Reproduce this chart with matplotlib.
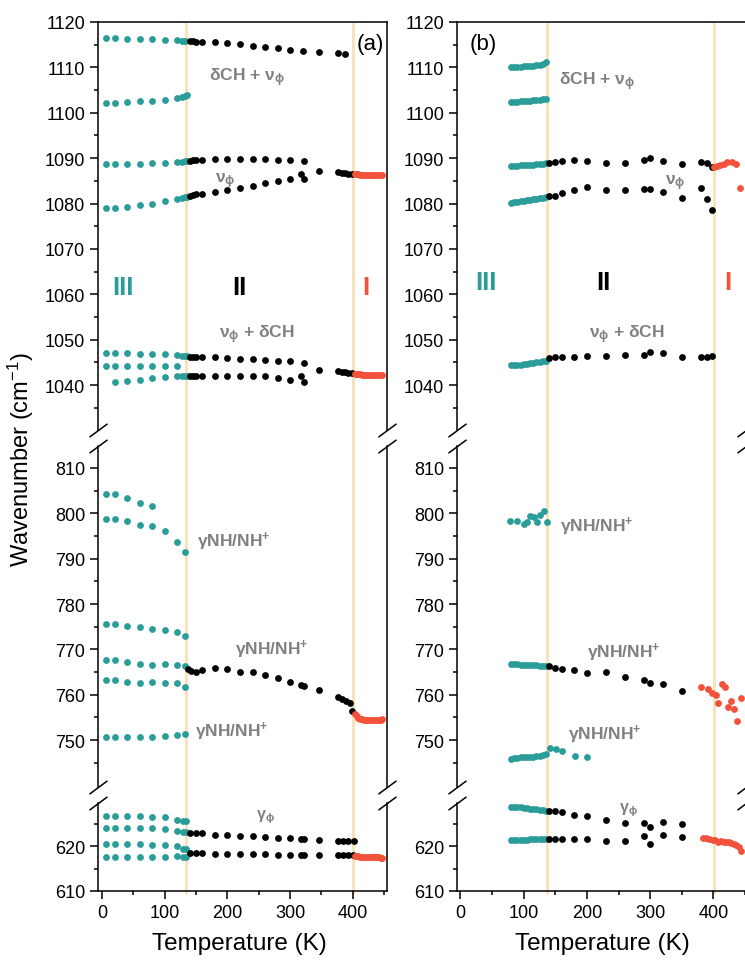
import matplotlib
matplotlib.use('Agg')
import matplotlib.pyplot as plt
from matplotlib.path import Path
from matplotlib.ticker import FixedLocator
from matplotlib.transforms import blended_transform_factory

plt.rcParams['font.family'] = ['Liberation Sans', 'DejaVu Sans']
plt.rcParams['mathtext.fontset'] = 'custom'
plt.rcParams['mathtext.rm'] = 'Liberation Sans'
plt.rcParams['mathtext.it'] = 'Liberation Sans:italic'
plt.rcParams['mathtext.bf'] = 'Liberation Sans:bold'

TEAL = '#2A9D99'
RED = '#F2513A'
BLACK = '#000000'
GREY = '#808080'
TAN = '#F8E3BC'

# ---------------- data : panel (a) ----------------
a_teal_T = [7, 20, 40, 60, 80, 100, 120, 127, 132, 136]
a1_T = [7, 20, 40, 60, 80, 100, 120, 127, 132]
a1_V = [1116.4, 1116.4, 1116.3, 1116.3, 1116.2, 1116.1, 1116.0, 1115.9, 1115.9]
a1k_T = [140, 145, 150, 160, 180, 200, 220, 240, 260, 280, 300, 320, 346, 377, 388]
a1k_V = [1115.8, 1115.8, 1115.7, 1115.6, 1115.5, 1115.3, 1115.1, 1114.7, 1114.4, 1114.2,
         1113.9, 1113.6, 1113.4, 1113.1, 1112.9]
a2_V = [1102.1, 1102.2, 1102.3, 1102.5, 1102.7, 1102.9, 1103.2, 1103.5, 1103.7, 1103.9]
a3_V = [1088.7, 1088.7, 1088.8, 1088.8, 1088.9, 1088.9, 1089.1, 1089.2, 1089.3, 1089.3]
a_k12_T = [140, 145, 150, 160, 180, 200, 220, 240, 260, 280, 300, 322]
a3k_V = [1089.4, 1089.5, 1089.6, 1089.7, 1089.8, 1089.8, 1089.9, 1089.9, 1089.8, 1089.7,
         1089.6, 1089.3]
a4_V = [1079.1, 1079.1, 1079.3, 1079.6, 1080.0, 1080.5, 1081.0, 1081.2, 1081.4, 1081.5]
a_k19_T = [140, 145, 150, 160, 180, 200, 220, 240, 260, 280, 300, 317, 322, 346, 377, 382,
           387, 393, 398]
a4k_V = [1081.7, 1081.9, 1082.0, 1082.2, 1082.6, 1083.0, 1083.4, 1083.8, 1084.6, 1085.0,
         1085.4, 1086.5, 1085.4, 1087.2, 1087.0, 1086.8, 1086.7, 1086.6, 1086.5]
a_red_T = [403, 406, 409, 412, 415, 418, 421, 424, 427, 430, 433, 436, 439, 442, 445, 447]
a4r_V = [1086.4, 1086.4, 1086.4, 1086.3, 1086.3, 1086.3, 1086.3, 1086.3, 1086.3, 1086.2,
         1086.2, 1086.2, 1086.2, 1086.2, 1086.2, 1086.2]
a5_V = [1047.0, 1047.0, 1047.0, 1046.9, 1046.9, 1046.8, 1046.7, 1046.5, 1046.4, 1046.3]
a5k_V = [1046.1, 1046.1, 1046.1, 1046.1, 1046.1, 1045.9, 1045.7, 1045.7, 1045.5, 1045.4,
         1045.2, 1044.8]
a6_T = [7, 20, 40, 60, 80, 100, 120]
a6_V = [1044.3, 1044.3, 1044.3, 1044.3, 1044.3, 1044.3, 1044.2]
a7_T = [20, 40, 60, 80, 100, 120, 127, 132, 136]
a7_V = [1040.7, 1040.9, 1041.2, 1041.5, 1041.7, 1041.9, 1041.9, 1042.0, 1042.0]
a6k_V = [1042.0, 1042.0, 1042.0, 1042.0, 1042.0, 1042.0, 1042.0, 1042.0, 1042.0, 1041.5,
         1041.2, 1042.1, 1040.6, 1043.4, 1043.0, 1042.9, 1042.8, 1042.7, 1042.6]
a6r_V = [1042.5, 1042.4, 1042.4, 1042.4, 1042.3, 1042.3, 1042.3, 1042.3, 1042.3, 1042.2,
         1042.2, 1042.2, 1042.2, 1042.2, 1042.2, 1042.2]

a8_T = [7, 20, 40, 60, 80]
a8_V = [804.3, 804.3, 803.3, 802.3, 801.6]
a_mid_T = [7, 20, 40, 60, 80, 100, 120, 132]
a9_V = [798.8, 798.8, 798.3, 797.5, 797.2, 796.2, 793.6, 791.4]
a10_V = [775.6, 775.6, 775.1, 774.9, 774.5, 774.2, 773.9, 772.9]
a11_V = [767.6, 767.6, 767.2, 766.8, 766.6, 766.8, 766.6, 766.3]
a12_V = [763.2, 763.2, 762.8, 762.6, 762.9, 762.6, 762.6, 761.8]
a13_V = [750.7, 750.7, 750.7, 750.7, 750.6, 750.8, 751.2, 751.3]
a11k_T = [137, 142, 150, 160, 180, 200, 220, 240, 260, 280, 300, 317, 322, 346, 377, 383,
          389, 395, 399]
a11k_V = [765.6, 765.2, 765.0, 765.4, 765.9, 765.6, 765.1, 765.0, 764.4, 763.7, 762.9,
          762.2, 761.9, 761.1, 759.5, 759.1, 758.7, 758.2, 756.5]
a11r_V = [755.8, 755.3, 754.9, 754.7, 754.6, 754.5, 754.5, 754.5, 754.5, 754.5, 754.5,
          754.5, 754.5, 754.5, 754.5, 754.6]

a_bot_T = [7, 20, 40, 60, 80, 100, 120, 129, 134]
a14_V = [626.7, 626.7, 626.7, 626.6, 626.5, 626.4, 625.8, 625.6, 625.6]
a15_V = [623.9, 623.9, 623.9, 623.9, 623.9, 623.8, 623.4, 623.2, 623.2]
a16_V = [620.4, 620.4, 620.4, 620.4, 620.3, 620.3, 619.9, 619.3, 619.3]
a17_V = [617.5, 617.5, 617.5, 617.5, 617.6, 617.6, 617.7, 617.6, 617.6]
a15k_T = [140, 150, 160, 180, 200, 220, 240, 260, 280, 300, 317, 322, 346, 377, 385, 393, 402]
a15k_V = [622.9, 622.9, 622.9, 622.4, 622.4, 622.2, 622.2, 621.9, 621.8, 621.7, 621.6,
          621.6, 621.4, 621.2, 621.2, 621.2, 621.2]
a17k_T = [140, 150, 160, 180, 200, 220, 240, 260, 280, 300, 317, 322, 346, 377, 385, 393, 400]
a17k_V = [618.4, 618.4, 618.4, 618.3, 618.2, 618.2, 618.2, 618.2, 618.1, 618.1, 618.1,
          618.0, 618.0, 617.9, 617.9, 617.9, 617.9]
a17r_V = [617.7, 617.7, 617.7, 617.6, 617.6, 617.6, 617.6, 617.6, 617.5, 617.5, 617.5,
          617.5, 617.5, 617.5, 617.4, 617.4]

# ---------------- data : panel (b) ----------------
b_teal_T = [80, 85, 90, 95, 100, 105, 110, 115, 120, 125, 130, 135]
b_k14_T = [140, 150, 160, 180, 200, 230, 260, 290, 300, 320, 350, 380, 390, 398]
b_k11_T = [140, 150, 160, 180, 200, 230, 260, 290, 300, 320, 350]
b1_V = [1110.0, 1110.0, 1110.1, 1110.1, 1110.2, 1110.3, 1110.3, 1110.4, 1110.5, 1110.6,
        1110.8, 1111.1]
b2_V = [1102.3, 1102.4, 1102.4, 1102.5, 1102.6, 1102.6, 1102.7, 1102.8, 1102.8, 1102.9,
        1103.0, 1103.1]
b3_V = [1088.2, 1088.3, 1088.3, 1088.4, 1088.4, 1088.5, 1088.5, 1088.6, 1088.7, 1088.7,
        1088.8, 1088.9]
b3k_V = [1089.0, 1089.2, 1089.3, 1089.5, 1089.4, 1089.0, 1089.0, 1089.5, 1090.0, 1089.4,
         1088.7, 1089.2, 1088.9, 1088.1]
b3r_T = [401, 405, 410, 416, 422, 429, 436, 442]
b3r_V = [1088.0, 1088.2, 1088.4, 1088.7, 1089.1, 1089.2, 1088.8, 1083.5]
b4_V = [1080.2, 1080.3, 1080.4, 1080.5, 1080.6, 1080.7, 1080.8, 1080.9, 1081.0, 1081.2,
        1081.3, 1081.5]
b4k_V = [1081.6, 1081.7, 1082.3, 1083.0, 1083.7, 1083.0, 1083.0, 1083.3, 1083.3, 1082.6,
         1081.3, 1083.5, 1081.0, 1078.6]
b5_V = [1044.4, 1044.4, 1044.5, 1044.5, 1044.6, 1044.7, 1044.8, 1044.9, 1045.0, 1045.1,
        1045.2, 1045.4]
b5k_V = [1045.9, 1046.1, 1046.1, 1046.2, 1046.5, 1046.5, 1046.6, 1046.6, 1047.2, 1047.1,
         1046.1, 1046.1, 1046.2, 1046.3]

b6_T = [79, 89, 100, 106, 110, 116, 121, 126, 132, 137]
b6_V = [798.4, 798.3, 797.7, 798.2, 799.5, 799.3, 798.0, 799.6, 800.6, 798.0]
b7_V = [766.7, 766.7, 766.7, 766.6, 766.6, 766.6, 766.5, 766.5, 766.5, 766.4, 766.4, 766.3]
b7k_V = [766.3, 765.9, 765.7, 765.4, 764.8, 765.1, 763.9, 763.2, 762.6, 762.3, 760.8]
b7r_T = [381, 392, 397, 404, 408, 413, 418, 423, 428, 433, 438, 443]
b7r_V = [761.6, 761.2, 760.3, 759.9, 758.2, 762.3, 761.7, 757.2, 758.7, 756.9, 754.1, 759.3]
b8_T = [80, 85, 90, 95, 100, 105, 110, 115, 120, 125, 130, 135, 142, 151, 161, 181, 200]
b8_V = [745.9, 746.0, 746.1, 746.2, 746.3, 746.3, 746.3, 746.3, 746.4, 746.5, 746.7,
        747.0, 748.3, 748.1, 747.5, 746.5, 746.3]

b9_V = [628.7, 628.7, 628.6, 628.6, 628.5, 628.4, 628.3, 628.3, 628.2, 628.1, 628.0, 627.8]
b9k_V = [627.8, 627.7, 627.5, 627.0, 626.7, 625.8, 625.1, 625.1, 624.3, 625.3, 625.0]
b10_V = [621.4, 621.4, 621.4, 621.4, 621.4, 621.4, 621.5, 621.5, 621.5, 621.5, 621.5, 621.6]
b10k_V = [621.6, 621.6, 621.6, 621.6, 621.5, 621.2, 621.2, 622.3, 620.4, 622.5, 621.9]
b10r_T = [383, 388, 393, 399, 403, 407, 412, 416, 420, 424, 428, 432, 436, 440, 444]
b10r_V = [621.8, 621.7, 621.6, 621.4, 621.3, 621.0, 621.2, 621.0, 621.0, 620.8, 620.7,
          620.5, 620.2, 619.8, 619.0]

# series grouped by panel and by axis segment (top, middle, bottom)
SERIES = [
    [  # panel (a)
        [(a1_T, a1_V, TEAL), (a1k_T, a1k_V, BLACK), (a_teal_T, a2_V, TEAL),
         (a_teal_T, a3_V, TEAL), (a_k12_T, a3k_V, BLACK), (a_teal_T, a4_V, TEAL),
         (a_k19_T, a4k_V, BLACK), (a_red_T, a4r_V, RED), (a_teal_T, a5_V, TEAL),
         (a_k12_T, a5k_V, BLACK), (a6_T, a6_V, TEAL), (a7_T, a7_V, TEAL),
         (a_k19_T, a6k_V, BLACK), (a_red_T, a6r_V, RED)],
        [(a8_T, a8_V, TEAL), (a_mid_T, a9_V, TEAL), (a_mid_T, a10_V, TEAL),
         (a_mid_T, a11_V, TEAL), (a_mid_T, a12_V, TEAL), (a_mid_T, a13_V, TEAL),
         (a11k_T, a11k_V, BLACK), (a_red_T, a11r_V, RED)],
        [(a_bot_T, a14_V, TEAL), (a_bot_T, a15_V, TEAL), (a_bot_T, a16_V, TEAL),
         (a_bot_T, a17_V, TEAL), (a15k_T, a15k_V, BLACK), (a17k_T, a17k_V, BLACK),
         (a_red_T, a17r_V, RED)],
    ],
    [  # panel (b)
        [(b_teal_T, b1_V, TEAL), (b_teal_T, b2_V, TEAL), (b_teal_T, b3_V, TEAL),
         (b_k14_T, b3k_V, BLACK), (b3r_T, b3r_V, RED), (b_teal_T, b4_V, TEAL),
         (b_k14_T, b4k_V, BLACK), (b_teal_T, b5_V, TEAL), (b_k14_T, b5k_V, BLACK)],
        [(b6_T, b6_V, TEAL), (b_teal_T, b7_V, TEAL), (b_k11_T, b7k_V, BLACK),
         (b7r_T, b7r_V, RED), (b8_T, b8_V, TEAL)],
        [(b_teal_T, b9_V, TEAL), (b_k11_T, b9k_V, BLACK), (b_teal_T, b10_V, TEAL),
         (b_k11_T, b10k_V, BLACK), (b10r_T, b10r_V, RED)],
    ],
]

PHASE_T = [[133.4, 400.5], [136.4, 401.0]]
XLIMS = [(-6, 455), (-5, 452)]
X_MAJOR = [0, 100, 200, 300, 400]
X_MINOR = [50, 150, 250, 350, 450]
Y_LIMS = [(1030.1, 1120), (739.65, 814.85), (610, 629.56)]
Y_MAJOR = [[1040, 1050, 1060, 1070, 1080, 1090, 1100, 1110, 1120],
           [750, 760, 770, 780, 790, 800, 810],
           [610, 620]]
Y_MINOR = [[1035, 1045, 1055, 1065, 1075, 1085, 1095, 1105, 1115],
           [745, 755, 765, 775, 785, 795, 805],
           [615, 625]]

# ---------------- layout (pixels) ----------------
W, H = 745, 962
fig = plt.figure(figsize=(W / 100, H / 100), dpi=100)


def fx(px):
    return px / W


def fy(py):
    return 1 - py / H


SEG_PX = [(23, 431), (447, 788), (804, 892)]
PANEL_LEFT = [98.3, 457.3]
PANEL_W = 289
SLASH = Path([(-1, -0.74), (1, 0.74)], [Path.MOVETO, Path.LINETO])
LW = 1.1

for p in range(2):
    axes = []
    for s in range(3):
        top, bot = SEG_PX[s]
        ax = fig.add_axes([fx(PANEL_LEFT[p]), fy(bot), PANEL_W / W, (bot - top) / H])
        ax.patch.set_alpha(0)
        ax.set_xlim(*XLIMS[p])
        ax.set_ylim(*Y_LIMS[s])
        for sp in ax.spines.values():
            sp.set_linewidth(LW)
        if s > 0:
            ax.spines['top'].set_visible(False)
        if s < 2:
            ax.spines['bottom'].set_visible(False)
        ax.yaxis.set_major_locator(FixedLocator(Y_MAJOR[s]))
        ax.yaxis.set_minor_locator(FixedLocator(Y_MINOR[s]))
        ax.xaxis.set_major_locator(FixedLocator(X_MAJOR))
        ax.xaxis.set_minor_locator(FixedLocator(X_MINOR))
        ax.tick_params(axis='y', which='both', left=True, right=False, direction='out',
                       width=LW, labelsize=13, pad=4)
        ax.tick_params(axis='y', which='major', length=5.5)
        ax.tick_params(axis='y', which='minor', length=3)
        if s == 2:
            ax.tick_params(axis='x', which='both', bottom=True, top=False, direction='out',
                           width=LW, labelsize=13, pad=4)
            ax.tick_params(axis='x', which='major', length=5.5)
            ax.tick_params(axis='x', which='minor', length=3)
        else:
            ax.tick_params(axis='x', which='both', bottom=False, top=False,
                           labelbottom=False)
        for T, V, c in SERIES[p][s]:
            ax.plot(T, V, 'o', ms=4.9, color=c, mew=0, zorder=3)
        axes.append(ax)

    # phase-transition lines through all segments
    trans = blended_transform_factory(axes[0].transData, fig.transFigure)
    for xv in PHASE_T[p]:
        axes[0].plot([xv, xv], [fy(895), fy(23)], transform=trans, color=TAN, lw=2.2,
                     zorder=1, clip_on=False, solid_capstyle='butt')

    # axis-break marks
    for s in range(2):
        for xa in (0, 1):
            axes[s].plot([xa], [0], marker=SLASH, ms=13, mew=LW, color='black',
                         transform=axes[s].transAxes, clip_on=False, zorder=5)
            axes[s + 1].plot([xa], [1], marker=SLASH, ms=13, mew=LW, color='black',
                             transform=axes[s + 1].transAxes, clip_on=False, zorder=5)

# ---------------- text ----------------
DCH_NU = r"δCH + ν$_{\mathbf{ϕ}}$"
NU = r"ν$_{\mathbf{ϕ}}$"
NU_DCH = r"ν$_{\mathbf{ϕ}}$ + δCH"
GNH = r"γNH/NH$^{\mathbf{+}}$"
GPHI = r"γ$_{\mathbf{ϕ}}$"


def note(x, y, s, ha='left', size=12.5):
    fig.text(fx(x), fy(y), s, ha=ha, va='baseline', color=GREY, fontsize=size,
             fontweight='bold')


# panel (a)
note(246.7, 81, DCH_NU, ha='center')
note(215, 183, NU)
note(257, 338, NU_DCH, ha='center')
note(197, 547, GNH)
note(235, 655, GNH)
note(195, 737, GNH)
note(256, 819, GPHI, size=11.5)
# panel (b)
note(596.7, 85, DCH_NU, ha='center')
note(665, 185, NU)
note(627, 338, NU_DCH, ha='center')
note(560, 532, GNH)
note(587, 658, GNH)
note(568, 740, GNH)
note(619, 812, GPHI, size=11.5)

PHASES = ['III', 'II', 'I']
PHASE_COLORS = [TEAL, BLACK, RED]
PHASE_X = [[122.5, 239, 365.5], [485.5, 603.3, 728]]
PHASE_Y = [295, 290]
for p in range(2):
    for lab, col, xx in zip(PHASES, PHASE_COLORS, PHASE_X[p]):
        fig.text(fx(xx), fy(PHASE_Y[p]), lab, ha='center', va='baseline', color=col,
                 fontsize=18.5, fontweight='bold')

fig.text(fx(370), fy(50), '(a)', ha='center', va='baseline', fontsize=16)
fig.text(fx(483), fy(50), '(b)', ha='center', va='baseline', fontsize=16)

fig.text(fx(21), fy(460), r"Wavenumber (cm$^{-1}$)", rotation=90, ha='center',
         va='center', fontsize=17)
fig.text(fx(239), fy(944), 'Temperature (K)', ha='center', va='center', fontsize=17.5)
fig.text(fx(602), fy(944), 'Temperature (K)', ha='center', va='center', fontsize=17.5)

fig.savefig('out.png', dpi=100, facecolor='white')
